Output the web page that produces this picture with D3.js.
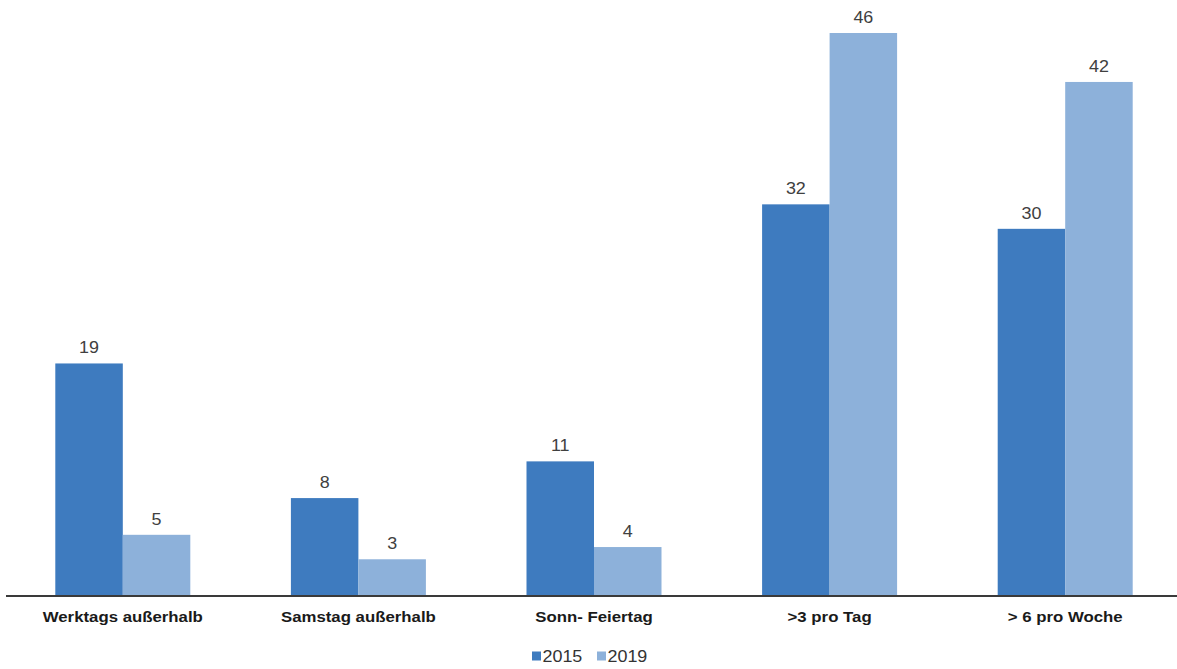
<!DOCTYPE html>
<html>
<head>
<meta charset="utf-8">
<script src="https://cdn.jsdelivr.net/npm/d3@7"></script>
<style>
  html, body { margin: 0; padding: 0; background: #fff; }
  svg { display: block; font-family: "Liberation Sans", Arial, sans-serif; }
</style>
</head>
<body>
<svg id="chart" width="1177" height="669"></svg>
<script>
// Categories and values per year
const categories = ["Werktags außerhalb", "Samstag außerhalb", "Sonn- Feiertag", ">3 pro Tag", "> 6 pro Woche"];
const years = ["2015", "2019"];
const values2015 = [19, 8, 11, 32, 30];
const values2019 = [5, 3, 4, 46, 42];
const colors = ["#3e7bbf", "#8db1da"];

const seriesByYear = { "2015": values2015, "2019": values2019 };

const svg = d3.select("#chart");
const baseline = 596;
const stretch = 1.12; // slightly wide lettering

const x = d3.scaleBand()
  .domain(categories)
  .range([5, 1183])
  .paddingInner(0.427)
  .paddingOuter(0.2135);

const xInner = d3.scaleBand()
  .domain(years)
  .range([0, x.bandwidth()]);

const y = d3.scaleLinear()
  .domain([0, 46])
  .range([baseline, 33]);

const color = d3.scaleOrdinal().domain(years).range(colors);

const rows = categories.map((c, i) => ({
  category: c,
  bars: years.map(yr => ({ year: yr, value: seriesByYear[yr][i] }))
}));

const groups = svg.append("g").selectAll("g")
  .data(rows)
  .join("g")
  .attr("transform", d => `translate(${x(d.category)},0)`);

groups.selectAll("rect")
  .data(d => d.bars)
  .join("rect")
  .attr("x", d => xInner(d.year))
  .attr("y", d => y(d.value))
  .attr("width", xInner.bandwidth())
  .attr("height", d => baseline - y(d.value))
  .attr("fill", d => color(d.year));

groups.selectAll("text.value")
  .data(d => d.bars)
  .join("text")
  .attr("class", "value")
  .attr("transform", d => `translate(${xInner(d.year) + xInner.bandwidth() / 2},${y(d.value) - 10}) scale(${stretch},1)`)
  .attr("text-anchor", "middle")
  .attr("font-size", 16)
  .attr("fill", "#404040")
  .text(d => d.value);

// Category axis
const xAxis = d3.axisBottom(x).tickSize(0).tickPadding(0);
const axisG = svg.append("g")
  .attr("transform", `translate(0,${baseline})`)
  .call(xAxis);
axisG.select(".domain").remove();
axisG.selectAll("text")
  .attr("y", 26)
  .attr("dy", null)
  .attr("transform", `scale(${stretch},1)`)
  .attr("font-size", 15)
  .attr("font-weight", "bold")
  .attr("fill", "#1a1a1a")
  .attr("font-family", "'Liberation Sans', Arial, sans-serif");

svg.append("line")
  .attr("x1", 6).attr("x2", 1177)
  .attr("y1", baseline).attr("y2", baseline)
  .attr("stroke", "#3a3a3a")
  .attr("stroke-width", 2);

// Legend
const legendItems = [
  { year: "2015", x: 532 },
  { year: "2019", x: 597 }
];
const legend = svg.append("g").attr("transform", "translate(0,656)");
const li = legend.selectAll("g").data(legendItems).join("g")
  .attr("transform", d => `translate(${d.x},0)`);
li.append("rect")
  .attr("x", 0).attr("y", -4.5)
  .attr("width", 9).attr("height", 9)
  .attr("fill", d => color(d.year));
li.append("text")
  .attr("transform", `translate(10.5,5.5) scale(${stretch},1)`)
  .attr("font-size", 16)
  .attr("fill", "#333")
  .text(d => d.year);
</script>
</body>
</html>
